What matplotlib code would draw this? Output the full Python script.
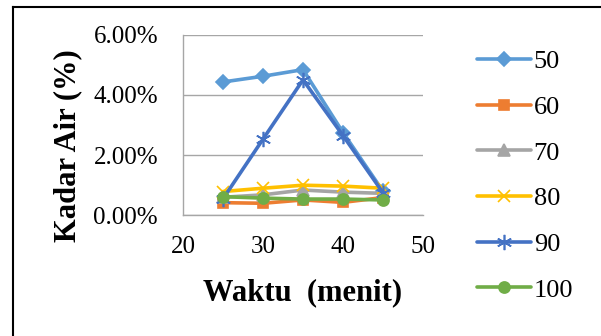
"""Kadar air vs waktu line chart."""

import matplotlib.pyplot as plt
from matplotlib.lines import Line2D
from matplotlib.ticker import FuncFormatter

waktu = [25, 30, 35, 40, 45]
series_names = ["50", "60", "70", "80", "90", "100"]
s50 = [0.0443, 0.0462, 0.0484, 0.0275, 0.0080]
s60 = [0.0042, 0.0040, 0.0051, 0.0043, 0.0059]
s70 = [0.0060, 0.0068, 0.0084, 0.0077, 0.0073]
s80 = [0.0079, 0.0090, 0.0100, 0.0097, 0.0090]
s90 = [0.0055, 0.0253, 0.0450, 0.0265, 0.0075]
s100 = [0.0062, 0.0057, 0.0054, 0.0054, 0.0051]
series_values = [s50, s60, s70, s80, s90, s100]

colors = ["#5B9BD5", "#ED7D31", "#A5A5A5", "#FFC000", "#4472C4", "#70AD47"]
markers = ["D", "s", "^", "x", (6, 2, 0), "o"]
msizes = [7, 7, 8, 9, 11, 8]

plt.rcParams["font.family"] = ["Liberation Serif", "DejaVu Serif"]

fig = plt.figure(figsize=(6.01, 3.36), dpi=100)
ax = fig.add_axes([0.3045, 0.3592, 0.3993, 0.5375])

for name, vals, c, m, ms in zip(series_names, series_values, colors, markers, msizes):
    ax.plot(waktu, vals, color=c, linewidth=2.6, marker=m, markersize=ms,
            markeredgecolor=c, markerfacecolor=c, markeredgewidth=1.2,
            label=name, solid_capstyle="round")

ax.set_xlim(20, 50)
ax.set_ylim(0, 0.06)
ax.set_xticks([20, 30, 40, 50])
ax.set_yticks([0, 0.02, 0.04, 0.06])
ax.yaxis.set_major_formatter(FuncFormatter(lambda v, p: f"{v * 100:.2f}%"))
ax.grid(axis="y", color="#A6A6A6", linewidth=1.0)
ax.set_axisbelow(True)
for side in ["top", "right"]:
    ax.spines[side].set_visible(False)
for side in ["left", "bottom"]:
    ax.spines[side].set_color("#A6A6A6")
    ax.spines[side].set_linewidth(1.0)
ax.tick_params(axis="both", length=0, labelsize=18, colors="black")
ax.tick_params(axis="y", pad=18)
ax.tick_params(axis="x", pad=15)

ax.set_xlabel("Waktu  (menit)", fontsize=22, fontweight="bold")
ax.set_ylabel("Kadar Air (%)", fontsize=22, fontweight="bold")
ax.xaxis.set_label_coords(0.5, -0.35)
ax.yaxis.set_label_coords(-0.42, 0.386)

fig.legend(loc="upper left", bbox_to_anchor=(0.754, 0.922), frameon=False,
           fontsize=19, handlelength=2.05, handletextpad=0.1, labelspacing=0.84)

# outer frame (left and top edges visible)
fig.add_artist(Line2D([0.0216, 0.0216], [0, 0.979], color="black", linewidth=1.5,
                      transform=fig.transFigure))
fig.add_artist(Line2D([0.0216, 1], [0.979, 0.979], color="black", linewidth=1.5,
                      transform=fig.transFigure))

fig.savefig("out.png", dpi=100)
